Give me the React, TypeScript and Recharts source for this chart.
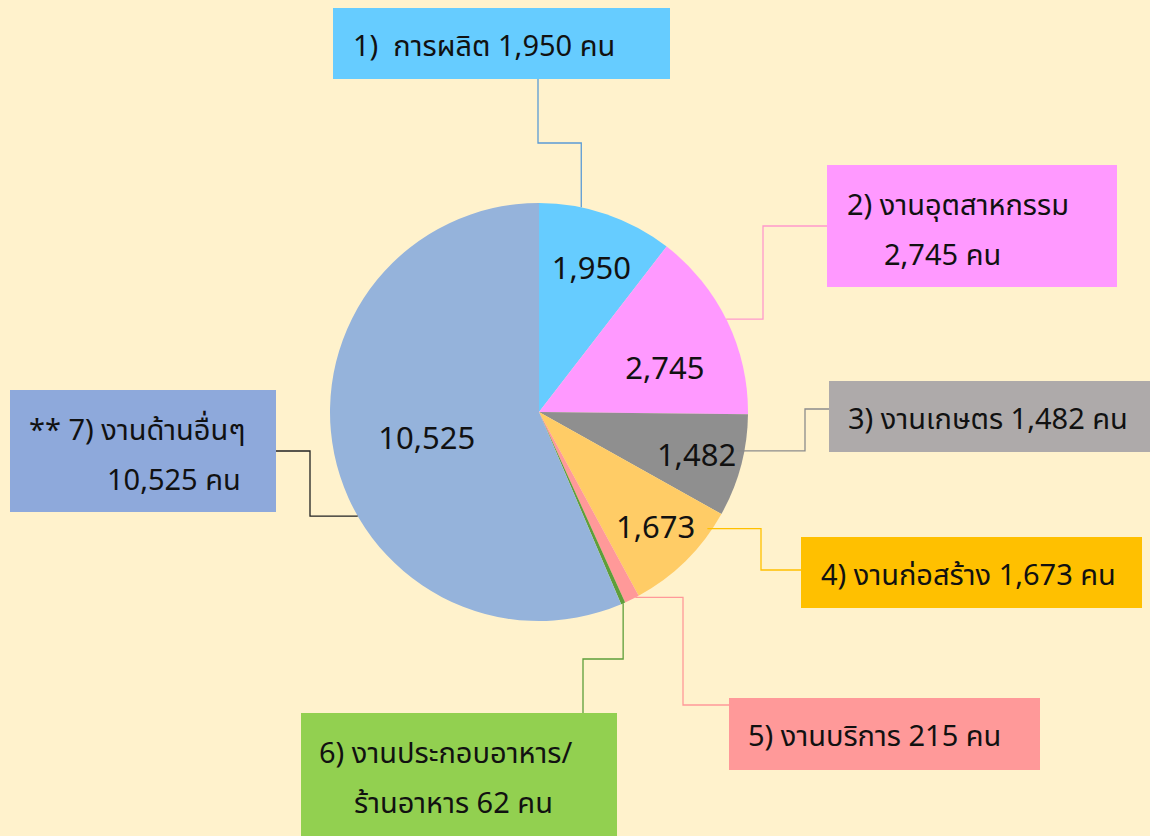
import { Cell, Pie, PieChart } from "recharts";

const categories = [
  "การผลิต",
  "งานอุตสาหกรรม",
  "งานเกษตร",
  "งานก่อสร้าง",
  "งานบริการ",
  "งานประกอบอาหาร/ร้านอาหาร",
  "งานด้านอื่นๆ",
];
const workers = [1950, 2745, 1482, 1673, 215, 62, 10525];
const boxLines = [
  ["1)  การผลิต 1,950 คน"],
  ["2) งานอุตสาหกรรม", "2,745 คน"],
  ["3) งานเกษตร 1,482 คน"],
  ["4) งานก่อสร้าง 1,673 คน"],
  ["5) งานบริการ 215 คน"],
  ["6) งานประกอบอาหาร/", "ร้านอาหาร 62 คน"],
  ["** 7) งานด้านอื่นๆ", "10,525 คน"],
];

const sliceColors = ["#66CCFF", "#FF99FF", "#8F8F8F", "#FFCC66", "#FF9999", "#5E9E3A", "#95B3DB"];
const boxColors = ["#66CCFF", "#FF99FF", "#AEAAAA", "#FFC000", "#FF9999", "#92D050", "#8EA9DB"];
const lineColors = ["#5B9BD5", "#FF99CC", "#8C8C8C", "#FFC000", "#FF9999", "#5E9E3A", "#222"];

// box layout: left, top, width, height, per-line left padding
const boxes = [
  { x: 333, y: 8, w: 337, h: 71, lines: [{ left: 20 }] },
  { x: 827, y: 165, w: 290, h: 122, lines: [{ left: 20 }, { left: 57 }] },
  { x: 829, y: 381, w: 330, h: 71, lines: [{ left: 19 }] },
  { x: 801, y: 537, w: 341, h: 71, lines: [{ left: 20 }] },
  { x: 729, y: 698, w: 311, h: 72, lines: [{ left: 19 }] },
  { x: 301, y: 713, w: 316, h: 130, lines: [{ left: 18 }, { left: 53 }] },
  { x: 10, y: 390, w: 266, h: 122, lines: [{ left: 19 }, { left: 97 }] },
];

// leader: start inside slice (t = fraction through slice, r = fraction of radius), then elbows
const leaders = [
  { t: 0.31, r: 1.0, pts: [[581, 143], [538, 143], [538, 79]] },
  { t: 0.49, r: 1.0, pts: [[763, 318], [763, 226], [827, 226]] },
  { t: 0.37, r: 0.96, pts: [[805, 451], [805, 409], [829, 409]] },
  { t: 0.17, r: 0.98, pts: [[761, 528], [761, 570], [801, 570]] },
  { t: 0.25, r: 1.0, pts: [[683, 598], [683, 705], [729, 705]] },
  { t: 0.5, r: 1.0, pts: [[621, 659], [583, 659], [583, 713]] },
  { t: 0.41, r: 1.0, pts: [[310, 514], [310, 451], [276, 451]] },
];
const valueRadius = [0.74, 0.64, 0.78, 0.78, 0, 0, 0.55];
const valueShift = [-1, -6, 0, 1, 0, 0, 1];

const data = categories.map((name, i) => ({ name, value: workers[i] }));
const RAD = Math.PI / 180;
const FONT = "'Noto Sans', 'Noto Sans Thai', Tahoma, sans-serif";

function renderLabel(props: any) {
  const { cx, cy, midAngle, outerRadius, percent, index, value } = props;
  const span = percent * 360;
  const start = props.startAngle ?? midAngle + span / 2;
  const end = props.endAngle ?? midAngle - span / 2;
  const ld = leaders[index];
  const a = start + ld.t * (end - start);
  const sx = cx + outerRadius * ld.r * Math.cos(-a * RAD);
  const sy = cy + outerRadius * ld.r * Math.sin(-a * RAD);
  const vertFirst = index === 0 || index === 5;
  const p0 = vertFirst ? [sx, ld.pts[0][1]] : [ld.pts[0][0], sy];
  const p1 = vertFirst ? [ld.pts[1][0], p0[1]] : [p0[0], ld.pts[1][1]];
  const pts = [[sx, sy], p0, p1, ld.pts[2]];
  const vr = valueRadius[index];
  const va = midAngle + valueShift[index];
  const vx = cx + outerRadius * vr * Math.cos(-va * RAD);
  const vy = cy + outerRadius * vr * Math.sin(-va * RAD);
  return (
    <g key={`lbl-${index}`}>
      <polyline
        points={pts.map((p) => p.join(",")).join(" ")}
        fill="none"
        stroke={lineColors[index]}
        strokeWidth={1.3}
      />
      {vr > 0 && (
        <text
          x={vx}
          y={vy}
          textAnchor="middle"
          dominantBaseline="central"
          fontSize={31}
          fontFamily={FONT}
          fill="#111"
        >
          {value.toLocaleString("en-US")}
        </text>
      )}
    </g>
  );
}

export default function App() {
  return (
    <div
      style={{
        position: "absolute",
        left: 0,
        top: 0,
        width: 1150,
        height: 836,
        overflow: "hidden",
        background: "#FFF2CC",
        fontFamily: FONT,
      }}
    >
      <PieChart width={1150} height={836} margin={{ top: 0, right: 0, bottom: 0, left: 0 }}>
        <Pie
          data={data}
          dataKey="value"
          nameKey="name"
          cx={539}
          cy={412}
          outerRadius={209}
          startAngle={90}
          endAngle={-270}
          stroke="none"
          label={renderLabel}
          labelLine={false}
          isAnimationActive={false}
        >
          {data.map((d, i) => (
            <Cell key={d.name} fill={sliceColors[i]} />
          ))}
        </Pie>
      </PieChart>
      {boxes.map((b, i) => (
        <div
          key={i}
          style={{
            position: "absolute",
            left: b.x,
            top: b.y,
            width: b.w,
            height: b.h,
            background: boxColors[i],
            color: "#111",
            fontSize: 29,
            lineHeight: "50px",
            paddingTop: b.lines.length > 1 ? 14 : 12,
            boxSizing: "border-box",
          }}
        >
          {boxLines[i].map((t, k) => (
            <div key={k} style={{ paddingLeft: b.lines[k].left, whiteSpace: "pre" }}>
              {t}
            </div>
          ))}
        </div>
      ))}
    </div>
  );
}
